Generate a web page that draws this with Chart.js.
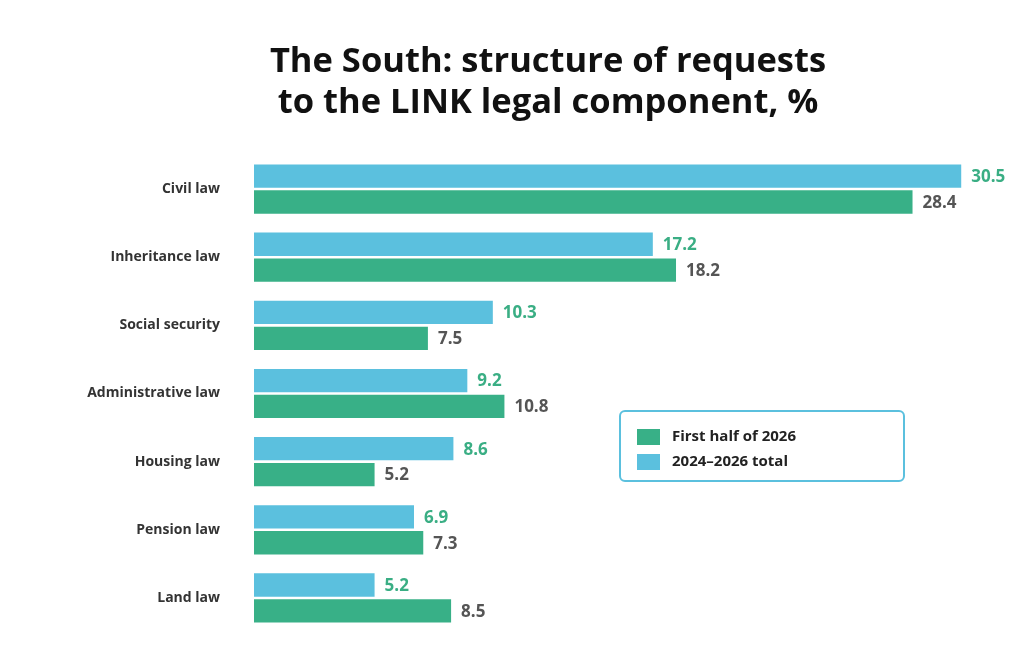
<!DOCTYPE html>
<html>
<head>
<meta charset="utf-8">
<script src="https://cdn.jsdelivr.net/npm/chart.js@4.4.1/dist/chart.umd.min.js"></script>
<style>
  html, body { margin: 0; padding: 0; background: #fff; }
  #wrap { position: relative; width: 1024px; height: 648px; }
  #title {
    position: absolute; left: 198px; top: 38px; width: 700px;
    text-align: center; font-family: "Open Sans", sans-serif; font-weight: 700;
    font-size: 34.5px; line-height: 41px; color: #111;
  }
  #legend {
    position: absolute; left: 619px; top: 410px; width: 282px; height: 68px;
    border: 2px solid #5bc0de; border-radius: 6px; box-sizing: content-box;
    font-family: "Open Sans", sans-serif; font-weight: 700; font-size: 15px; color: #222;
  }
  .item { position: absolute; left: 16px; height: 17px; line-height: 17px; }
  .item span { display: inline-block; width: 23px; height: 16px; vertical-align: middle; margin-right: 12px; }
</style>
</head>
<body>
<div id="wrap">
  <canvas id="barChart" width="1024" height="648"></canvas>
  <div id="title">The South: structure of requests<br>to the LINK legal component, %</div>
  <div id="legend">
    <div class="item" style="top:15px"><span style="background:#38b087"></span>First half of 2026</div>
    <div class="item" style="top:40px"><span style="background:#5bc0de"></span>2024–2026 total</div>
  </div>
</div>
<script>
// dados
const categories = ['Civil law', 'Inheritance law', 'Social security', 'Administrative law', 'Housing law', 'Pension law', 'Land law'];
const total2024_2026 = [30.5, 17.2, 10.3, 9.2, 8.6, 6.9, 5.2];
const firstHalf2026 = [28.4, 18.2, 7.5, 10.8, 5.2, 7.3, 8.5];

const BLUE = '#5bc0de';
const GREEN = '#38b087';

// rótulos de valor no fim das barras
const valueLabels = {
    id: 'valueLabels',
    afterDatasetsDraw(chart) {
        const ctx = chart.ctx;
        ctx.save();
        ctx.font = 'bold 17px "Open Sans", sans-serif';
        ctx.textBaseline = 'middle';
        ctx.textAlign = 'left';
        chart.data.datasets.forEach((ds, i) => {
            const meta = chart.getDatasetMeta(i);
            ctx.fillStyle = i === 0 ? '#3aae84' : '#555555';
            meta.data.forEach((bar, j) => {
                ctx.fillText(ds.data[j].toFixed(1), bar.x + 10, bar.y + 1);
            });
        });
        ctx.restore();
    }
};

const ctx = document.getElementById('barChart');

new Chart(ctx, {
    type: 'bar',
    data: {
        labels: categories,
        datasets: [
            {
                label: '2024–2026 total',
                data: total2024_2026,
                backgroundColor: BLUE,
                categoryPercentage: 0.76,
                barPercentage: 0.9
            },
            {
                label: 'First half of 2026',
                data: firstHalf2026,
                backgroundColor: GREEN,
                categoryPercentage: 0.76,
                barPercentage: 0.9
            }
        ]
    },
    options: {
        indexAxis: 'y',
        responsive: false,
        animation: false,
        layout: { padding: { top: 155, bottom: 16, left: 0, right: 28 } },
        scales: {
            x: { display: false, min: 0, max: 32 },
            y: {
                grid: { display: false },
                border: { display: false },
                ticks: {
                    padding: 26,
                    color: '#333',
                    font: { family: '"Open Sans", sans-serif', weight: 'bold', size: 14 }
                },
                afterFit(scale) {
                    scale.width = 254;
                    scale.paddingTop = 0;
                    scale.paddingBottom = 0;
                }
            }
        },
        plugins: {
            legend: { display: false },
            tooltip: { enabled: false }
        }
    },
    plugins: [valueLabels]
});
</script>
</body>
</html>
